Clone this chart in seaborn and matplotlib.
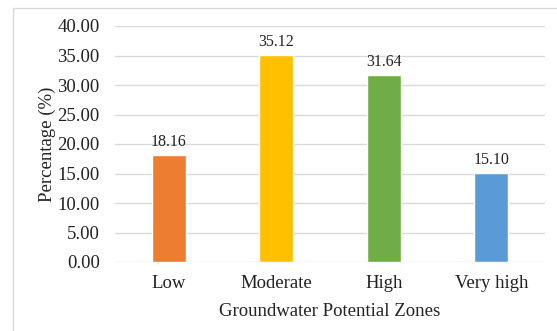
import matplotlib
matplotlib.use("Agg")
import matplotlib.pyplot as plt
import seaborn as sns
import pandas as pd
from matplotlib.patches import Rectangle

categories = ["Low", "Moderate", "High", "Very high"]
values = [18.16, 35.12, 31.64, 15.10]
colors = ["#ED7D31", "#FFC000", "#70AD47", "#5B9BD5"]
yticks = [0, 5, 10, 15, 20, 25, 30, 35, 40]

sns.set_theme(style="white")
plt.rcParams["font.family"] = ["Liberation Serif", "DejaVu Serif"]

df = pd.DataFrame({"zone": categories, "pct": values})

fig = plt.figure(figsize=(5.57, 3.31), dpi=100)
ax = fig.add_axes([115 / 557, 1 - 262 / 331, 430 / 557, 236 / 331])

fig.patches.append(Rectangle((13 / 557, -0.1), 1.2, 1 - 8 / 331 + 0.1,
                             transform=fig.transFigure, fill=False,
                             edgecolor="#D9D9D9", linewidth=1.0))

sns.barplot(data=df, x="zone", y="pct", hue="zone", palette=colors,
            width=0.32, legend=False, ax=ax, saturation=1)

ax.set_ylim(0, 40)
ax.set_yticks(yticks)
ax.set_yticklabels([f"{v:.2f}" for v in yticks])
ax.yaxis.grid(True, color="#D9D9D9", linewidth=1.0)
ax.set_axisbelow(True)
for s in ax.spines.values():
    s.set_visible(False)
ax.tick_params(axis="both", length=0, labelsize=13.5, colors="#222222")
ax.tick_params(axis="y", pad=11)
ax.tick_params(axis="x", pad=9)

for c in ax.containers:
    ax.bar_label(c, labels=[f"{v:.2f}" for v in c.datavalues], padding=3.5,
                 fontsize=11.5, color="#222222")

ax.set_xlabel("Groundwater Potential Zones", fontsize=13.5, color="#222222", labelpad=8)
ax.set_ylabel("Percentage (%)", fontsize=13.5, color="#222222", labelpad=1)

fig.savefig("out.png", dpi=100)
